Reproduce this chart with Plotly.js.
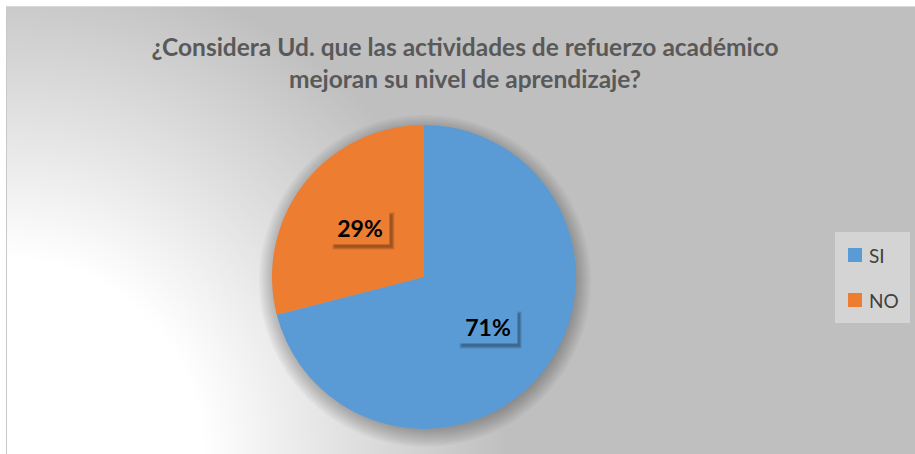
<!DOCTYPE html>
<html>
<head>
<meta charset="utf-8">
<script src="https://cdn.plot.ly/plotly-3.0.1.min.js"></script>
<style>
  html, body { margin: 0; padding: 0; background: #fff; }
  #wrap { position: relative; width: 915px; height: 454px; overflow: hidden; }
  #bg {
    position: absolute; left: 6px; top: 6px; right: 0; bottom: 0;
    border-left: 1px solid #c8c8c8; border-top: 1px solid #d9d9d9;
    background: radial-gradient(circle at 0% 100%, #ffffff 0px, #ffffff 195px, #bfbfbf 500px);
  }
  #chart { position: absolute; left: 0; top: 0; width: 915px; height: 454px; }
</style>
</head>
<body>
<div id="wrap">
  <div id="bg"></div>
  <div id="chart"></div>
</div>
<script>
const labels = ['SI', 'NO'];
const values = [71, 29];
const colors = ['#5B9BD5', '#ED7D31'];
const chartTitle = '¿Considera Ud. que las actividades de refuerzo académico<br>mejoran su nivel de aprendizaje?';

const W = 915;
const H = 454;
const FONT = 'Lato, "Open Sans", sans-serif';

// pie geometry (px)
const cxPx = 424;
const cyPx = 277;
const rPx = 152;
const cx = cxPx / W;
const cy = 1 - cyPx / H;

const total = values.reduce((a, b) => a + b, 0);
const annotations = [];
const shapes = [];

// soft shadow behind the pie
for (let i = 0; i < 9; i += 1) {
  const r = rPx - 2 + i * 2;
  shapes.push({
    type: 'circle', layer: 'below',
    xref: 'paper', yref: 'paper',
    xsizemode: 'pixel', ysizemode: 'pixel',
    xanchor: cx, yanchor: cy,
    x0: -r + 1, x1: r + 1, y0: -r - 4, y1: r - 4,
    fillcolor: 'rgba(0,0,0,0.03)', line: { width: 0 },
  });
}

// percentage labels in boxes with shadow
let acc = 0;
values.forEach((v, i) => {
  const mid = (acc + v / 2) / total * 2 * Math.PI;
  acc += v;
  const dx = Math.sin(mid) * rPx * 0.53;
  const dy = Math.cos(mid) * rPx * 0.53;
  const ax = cx + dx / W;
  const ay = cy + dy / H;
  for (let k = 0; k < 3; k += 1) {
    shapes.push({
      type: 'rect', layer: 'above',
      xref: 'paper', yref: 'paper',
      xsizemode: 'pixel', ysizemode: 'pixel',
      xanchor: ax, yanchor: ay,
      x0: -29 + 3 - k, x1: 29 + 3 + k, y0: -17 - 3 - k, y1: 16 - 3 + k,
      fillcolor: 'rgba(0,0,0,0.12)', line: { width: 0 },
    });
  }
  annotations.push({
    xref: 'paper', yref: 'paper', x: ax, y: ay,
    xanchor: 'center', yanchor: 'middle',
    text: `<b>${Math.round(v / total * 100)}%</b>`,
    showarrow: false, width: 58, height: 33, borderpad: 0,
    bgcolor: colors[i],
    font: { family: FONT, size: 23, color: '#000' },
  });
});

// legend box
const legX0 = 835, legX1 = 910, legY0 = 232, legY1 = 323;
shapes.push({
  type: 'rect', layer: 'above', xref: 'paper', yref: 'paper',
  x0: legX0 / W, x1: legX1 / W, y0: 1 - legY1 / H, y1: 1 - legY0 / H,
  fillcolor: '#d4d4d4', line: { width: 0 },
});
labels.forEach((lab, i) => {
  const yc = 255 + i * 45;
  shapes.push({
    type: 'rect', layer: 'above', xref: 'paper', yref: 'paper',
    x0: 848 / W, x1: 862 / W, y0: 1 - (yc + 7) / H, y1: 1 - (yc - 7) / H,
    fillcolor: colors[i], line: { width: 0 },
  });
  annotations.push({
    xref: 'paper', yref: 'paper', x: 867 / W, y: 1 - yc / H,
    xanchor: 'left', yanchor: 'middle', text: lab, showarrow: false,
    font: { family: FONT, size: 19, color: '#404040' },
  });
});

const trace = {
  type: 'pie',
  labels: labels,
  values: values,
  sort: false,
  direction: 'clockwise',
  rotation: 0,
  marker: { colors: colors, line: { width: 0 } },
  textinfo: 'none',
  hoverinfo: 'label+percent',
  showlegend: false,
  domain: {
    x: [(cxPx - rPx) / W, (cxPx + rPx) / W],
    y: [1 - (cyPx + rPx) / H, 1 - (cyPx - rPx) / H],
  },
};

const layout = {
  width: W,
  height: H,
  margin: { l: 0, r: 0, t: 0, b: 0 },
  paper_bgcolor: 'rgba(0,0,0,0)',
  plot_bgcolor: 'rgba(0,0,0,0)',
  showlegend: false,
  title: {
    text: `<b>${chartTitle}</b>`,
    x: 465 / W, xanchor: 'center',
    y: 1 - 56 / H, yanchor: 'middle', yref: 'container',
    font: { family: FONT, size: 24.5, color: '#595959' },
  },
  shapes: shapes,
  annotations: annotations,
};

Plotly.newPlot('chart', [trace], layout, { displayModeBar: false, staticPlot: true });
</script>
</body>
</html>
